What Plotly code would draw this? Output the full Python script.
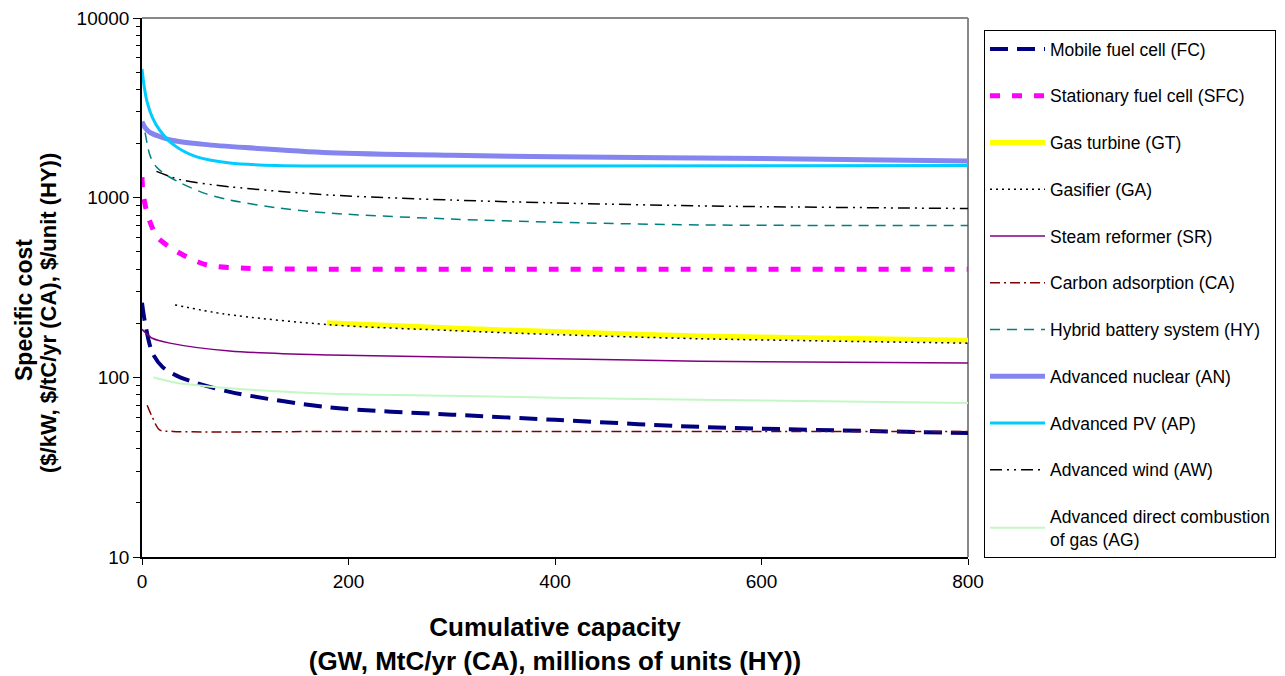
import plotly.graph_objects as go

# ---- data ----
FC_x = [0, 3, 10, 20, 37, 85, 182, 300, 400, 540, 800]
FC_y = [260, 200, 137, 114, 100, 83, 68, 62, 58, 53, 49]

SFC_x = [0, 1, 5, 10, 15, 34, 63, 100, 182, 400, 800]
SFC_y = [1300, 1050, 820, 680, 600, 500, 422, 405, 400, 400, 400]

GT_x = [179, 300, 400, 540, 800]
GT_y = [201, 188, 180, 170, 161]

GA_x = [32, 80, 182, 300, 400, 540, 800]
GA_y = [253, 225, 196, 182, 173, 164, 155]

SR_x = [0, 3, 10, 27, 85, 182, 400, 540, 800]
SR_y = [185, 178, 165, 155, 140, 133, 127, 123, 120]

CA_x = [5, 10, 17, 30, 200, 400, 600, 800]
CA_y = [70, 60, 51, 50, 50, 50, 50, 50]

HY_x = [3, 5, 8, 14, 25, 37, 60, 85, 130, 182, 300, 400, 540, 800]
HY_y = [2300, 2000, 1700, 1480, 1320, 1210, 1060, 970, 880, 820, 760, 730, 705, 700]

AN_x = [0, 3, 8, 17, 30, 60, 100, 182, 300, 400, 600, 800]
AN_y = [2650, 2450, 2300, 2190, 2080, 1980, 1900, 1780, 1720, 1690, 1650, 1600]

AP_x = [0, 2, 5, 10, 17, 30, 53, 85, 130, 182, 400, 800]
AP_y = [5200, 4200, 3400, 2800, 2380, 1980, 1685, 1560, 1510, 1500, 1500, 1510]

AW_x = [14, 37, 85, 182, 300, 400, 540, 800]
AW_y = [1400, 1260, 1150, 1035, 970, 935, 900, 870]

AG_x = [11, 30, 85, 182, 300, 400, 540, 800]
AG_y = [100, 94, 87, 81, 79, 77, 75, 72]

x_ticks = [0, 200, 400, 600, 800]
y_ticks = [10, 100, 1000, 10000]

series = [
    ("Mobile fuel cell (FC)", FC_x, FC_y, dict(color="#000080", width=4, dash="18px,9px")),
    ("Stationary fuel cell (SFC)", SFC_x, SFC_y, dict(color="#ff00ff", width=5, dash="10px,12px")),
    ("Gas turbine (GT)", GT_x, GT_y, dict(color="#ffff00", width=5)),
    ("Gasifier (GA)", GA_x, GA_y, dict(color="#000000", width=1.5, dash="2px,4px")),
    ("Steam reformer (SR)", SR_x, SR_y, dict(color="#800080", width=1.5)),
    ("Carbon adsorption (CA)", CA_x, CA_y, dict(color="#800000", width=1.5, dash="10px,4px,2px,4px")),
    ("Hybrid battery system (HY)", HY_x, HY_y, dict(color="#008080", width=1.5, dash="10px,7px")),
    ("Advanced nuclear (AN)", AN_x, AN_y, dict(color="#8585ef", width=5)),
    ("Advanced PV (AP)", AP_x, AP_y, dict(color="#00ccff", width=3)),
    ("Advanced wind (AW)", AW_x, AW_y, dict(color="#000000", width=1.5, dash="12px,5px,2px,5px,2px,5px")),
    ("Advanced direct combustion<br>of gas (AG)", AG_x, AG_y, dict(color="#c4f7c4", width=2)),
]

FONT = "Arial, Liberation Sans, Helvetica, sans-serif"

# the page body adds an 8px offset; size the figure so the plot area lands where the reference has it
W, H = 1277, 668
ML, MR, MT, MB = 134, 317, 10, 119
plot_w = W - ML - MR
plot_h = H - MT - MB

fig = go.Figure()
for i, (name, xs, ys, line) in enumerate(series):
    fig.add_trace(go.Scatter(
        x=xs, y=ys, name=name, mode="lines",
        line=dict(shape="spline", smoothing=0.8, **line),
        legendgroup=f"g{i}",
    ))

fig.update_layout(
    width=W, height=H,
    margin=dict(l=ML, r=MR, t=MT, b=MB, autoexpand=False),
    paper_bgcolor="white", plot_bgcolor="white",
    font=dict(family=FONT, color="black"),
    showlegend=True,
    legend=dict(
        xref="container", yref="container",
        x=976 / W, y=1 - 22 / H, xanchor="left", yanchor="top",
        bordercolor="black", borderwidth=1,
        font=dict(size=17.5, family=FONT, color="black"),
        traceorder="grouped", tracegroupgap=21,
        itemwidth=55, maxheight=640,
    ),
    shapes=[
        dict(type="line", xref="paper", yref="paper", x0=0, x1=1, y0=1, y1=1,
             line=dict(color="#888888", width=2), layer="below"),
        dict(type="line", xref="paper", yref="paper", x0=1, x1=1, y0=0, y1=1,
             line=dict(color="#888888", width=2), layer="below"),
    ],
    annotations=[
        dict(text="<b>Specific cost</b>", xref="paper", yref="paper",
             x=(16 - ML) / plot_w, y=(H - MB - 302) / plot_h,
             xanchor="center", yanchor="middle", textangle=-90, showarrow=False,
             font=dict(size=23, family=FONT, color="black")),
        dict(text="<b>($/kW, $/tC/yr (CA), $/unit (HY))</b>", xref="paper", yref="paper",
             x=(40 - ML) / plot_w, y=(H - MB - 305) / plot_h,
             xanchor="center", yanchor="middle", textangle=-90, showarrow=False,
             font=dict(size=22, family=FONT, color="black")),
    ],
)

fig.update_xaxes(
    range=[0, 800], tickvals=x_ticks, ticktext=[str(v) for v in x_ticks],
    showgrid=False, zeroline=False, automargin=False,
    showline=True, linecolor="black", linewidth=1.5,
    ticks="outside", ticklen=6, tickcolor="black",
    tickfont=dict(size=19, family=FONT), ticklabeloverflow="allow",
    title=dict(
        text="<b>Cumulative capacity</b><br><b>(GW, MtC/yr (CA), millions of units (HY))</b>",
        font=dict(size=26, family=FONT), standoff=30,
    ),
)

fig.update_yaxes(
    type="log", range=[1, 4], tickvals=y_ticks, ticktext=[str(v) for v in y_ticks],
    showgrid=False, zeroline=False, automargin=False,
    showline=True, linecolor="black", linewidth=1.5,
    ticks="outside", ticklen=7, tickcolor="black",
    tickfont=dict(size=19, family=FONT), ticklabeloverflow="allow",
    minor=dict(ticks="outside", ticklen=4, tickcolor="black", showgrid=False,
               tickvals=[v * m for v in [10, 100, 1000] for m in range(2, 10)]),
)

fig.write_html("out.html")
